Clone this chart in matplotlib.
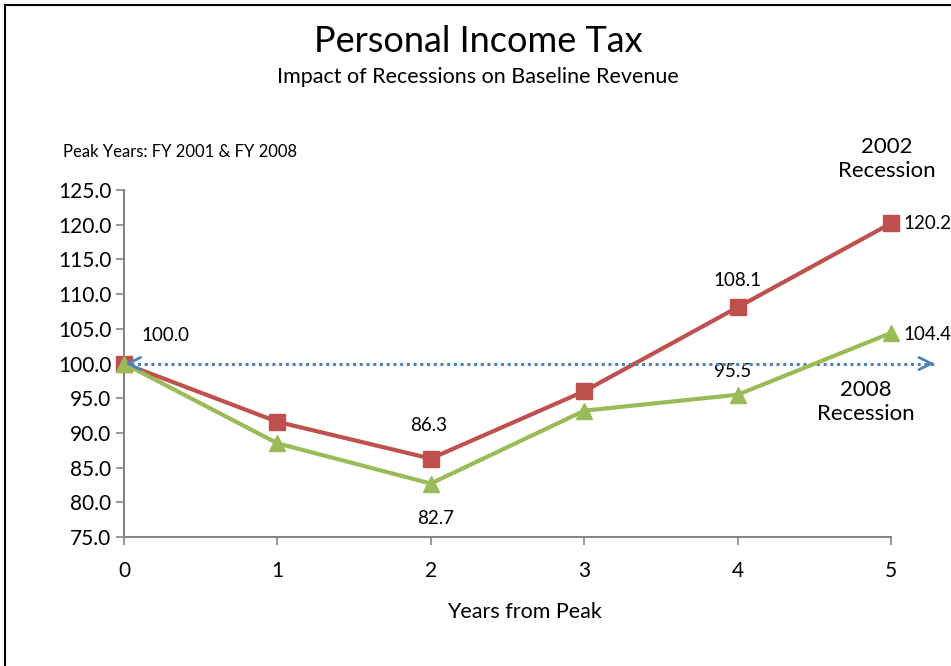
import matplotlib
matplotlib.use("Agg")
import matplotlib.pyplot as plt
from matplotlib.lines import Line2D

# Revenue index (peak year = 100) by years from peak
years = [0, 1, 2, 3, 4, 5]
rec_2002 = [100.0, 91.6, 86.3, 96.0, 108.1, 120.2]
rec_2008 = [100.0, 88.5, 82.7, 93.2, 95.5, 104.4]
baseline = 100.0
baseline_end = 5.28
y_ticks = [75.0, 80.0, 85.0, 90.0, 95.0, 100.0, 105.0, 110.0, 115.0, 120.0, 125.0]

RED = "#C0504D"
GREEN = "#9BBB59"
BLUE = "#4F81BD"
AXIS = "#868686"

plt.rcParams["font.family"] = ["Lato", "DejaVu Sans"]

fig = plt.figure(figsize=(9.51, 6.66), dpi=100)
ax = fig.add_axes([124 / 951, 1 - 537 / 666, (891 - 124) / 951, (537 - 190) / 666])

# Outer frame (left and top edges)
fig.add_artist(Line2D([5 / 951, 5 / 951], [0, 1 - 5 / 666], transform=fig.transFigure, color="black", lw=1.5))
fig.add_artist(Line2D([5 / 951, 1], [1 - 5 / 666, 1 - 5 / 666], transform=fig.transFigure, color="black", lw=1.5))

# Baseline dotted double arrow
ax.plot([years[0], baseline_end], [baseline, baseline], ls=(0, (1, 1.2)), color=BLUE, lw=2.2,
        clip_on=False, zorder=4)
ax.annotate("", xy=(baseline_end + 0.02, baseline), xytext=(baseline_end - 0.05, baseline),
            arrowprops=dict(arrowstyle="->", color=BLUE, lw=2, mutation_scale=22),
            annotation_clip=False, zorder=4)
ax.annotate("", xy=(years[0] - 0.01, baseline), xytext=(years[0] + 0.07, baseline),
            arrowprops=dict(arrowstyle="->", color=BLUE, lw=2, mutation_scale=22),
            annotation_clip=False, zorder=6)

ax.plot(years, rec_2002, color=RED, lw=3, marker="s", markersize=11, clip_on=False, zorder=3)
ax.plot(years, rec_2008, color=GREEN, lw=3, marker="^", markersize=12, clip_on=False, zorder=5)

ax.set_xlim(0, 5)
ax.set_ylim(75, 125)
ax.set_xticks(years)
ax.set_xticklabels([str(y) for y in years])
ax.set_yticks(y_ticks)
ax.set_yticklabels([f"{v:.1f}" for v in y_ticks])
for s in ("top", "right"):
    ax.spines[s].set_visible(False)
for s in ("left", "bottom"):
    ax.spines[s].set_color(AXIS)
    ax.spines[s].set_linewidth(1.5)
ax.tick_params(axis="both", direction="out", length=6, width=1.2, color=AXIS, labelsize=15)
ax.tick_params(axis="x", pad=11)
ax.tick_params(axis="y", pad=3)

lab = dict(fontsize=13.5, ha="center", va="center", textcoords="offset points", annotation_clip=False)
ax.annotate(f"{rec_2002[0]:.1f}", (years[0], rec_2002[0]), xytext=(29.5, 20), **lab)
ax.annotate(f"{rec_2002[2]:.1f}", (years[2], rec_2002[2]), xytext=(-1.5, 24), **lab)
ax.annotate(f"{rec_2008[2]:.1f}", (years[2], rec_2008[2]), xytext=(3.5, -25), **lab)
ax.annotate(f"{rec_2002[4]:.1f}", (years[4], rec_2002[4]), xytext=(0, 19), **lab)
ax.annotate(f"{rec_2008[4]:.1f}", (years[4], rec_2008[4]), xytext=(-3.5, 17), **lab)
lab_r = dict(lab, ha="left")
ax.annotate(f"{rec_2002[5]:.1f}", (years[5], rec_2002[5]), xytext=(9, 0), **lab_r)
ax.annotate(f"{rec_2008[5]:.1f}", (years[5], rec_2008[5]), xytext=(9, -1), **lab_r)

fig.text(887 / 951, 1 - 159 / 666, "2002\nRecession", fontsize=16, ha="center", va="center",
         linespacing=1.25)
fig.text(866 / 951, 1 - 402 / 666, "2008\nRecession", fontsize=16, ha="center", va="center",
         linespacing=1.25)

fig.text(478 / 951, 1 - 42 / 666, "Personal Income Tax", fontsize=26, ha="center", va="center")
fig.text(478 / 951, 1 - 77 / 666, "Impact of Recessions on Baseline Revenue", fontsize=15.5,
         ha="center", va="center")
fig.text(63 / 951, 1 - 152 / 666, "Peak Years: FY 2001 & FY 2008", fontsize=12, ha="left",
         va="center")
fig.text(524 / 951, 1 - 612 / 666, "Years from Peak", fontsize=15.5, ha="center", va="center")

fig.savefig("out.png", dpi=100)
